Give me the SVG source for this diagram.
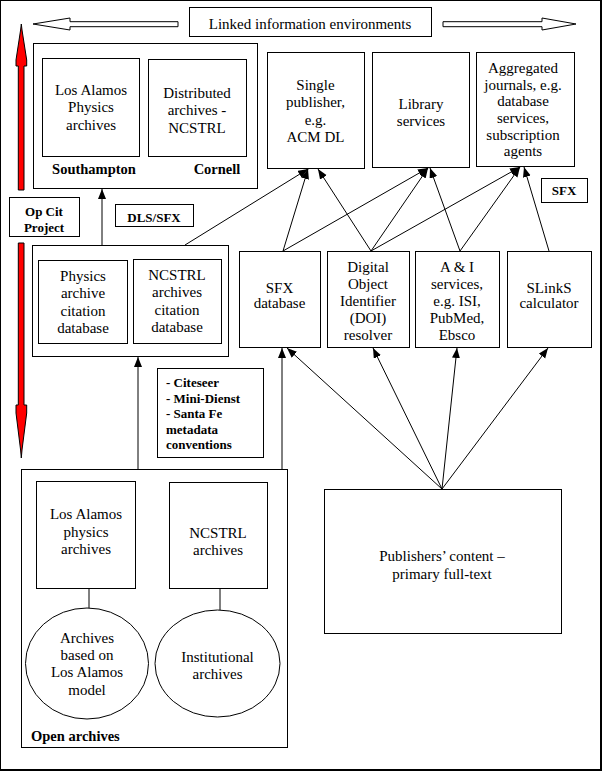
<svg xmlns="http://www.w3.org/2000/svg" width="604" height="771" viewBox="0 0 604 771">
<style>
.b{fill:#fff;stroke:#000;stroke-width:1}
rect.b{shape-rendering:crispEdges}
.t{font-family:"Liberation Serif","Times New Roman",serif;font-size:15px;fill:#000;text-anchor:middle}
.bd{font-family:"Liberation Serif","Times New Roman",serif;font-weight:bold;font-size:13px;fill:#000}
.c{text-anchor:middle}
.l{stroke:#000;stroke-width:1;fill:none}
.red{fill:#ff0000;stroke:#000;stroke-width:1}
.open{fill:#fff;stroke:#000;stroke-width:1}
</style>
<defs>
<marker id="ah" markerUnits="userSpaceOnUse" markerWidth="11" markerHeight="9" refX="10" refY="4" orient="auto">
<path d="M0,0 L10,4 L0,8 z" fill="#000"/>
</marker>
</defs>
<rect x="0" y="0" width="604" height="771" fill="#fff"/>
<rect x="0.5" y="0.5" width="600.5" height="769.5" fill="none" stroke="#000" stroke-width="1.5" shape-rendering="crispEdges"/>

<g id="title">
<rect class="b" x="189" y="7" width="242" height="29"/>
<text class="t" x="310" y="29">Linked information environments</text>
</g>
<g id="open-arrows">
<polygon class="open" points="33,24 70,18 70,21.7 178,21.7 178,26.7 70,26.7 70,30"/>
<polygon class="open" points="443,21.7 542,21.7 542,18 576,24 542,30 542,26.7 443,26.7"/>
</g>
<g id="red-arrows">
<polygon class="red" points="21.3,24 22,30 26.7,60 26.7,66 24,66 24,190 18.3,190 18.3,66 16,66 16,60 20.6,30"/>
<polygon class="red" points="18.3,243 24,243 24,405 26.7,405 26.7,413 22,450 21.3,458 20.6,450 16,413 16,405 18.3,405"/>
</g>
<g id="opcit">
<rect class="b" x="9" y="197" width="70" height="39"/>
<text class="bd c" x="44" y="216">Op Cit</text>
<text class="bd c" x="44" y="232">Project</text>
</g>
<g id="dlssfx">
<rect class="b" x="115" y="204" width="78" height="22"/>
<text class="bd c" x="154" y="222">DLS/SFX</text>
</g>
<g id="sfx-label">
<rect class="b" x="541" y="178" width="46" height="24"/>
<text class="bd c" x="564" y="195">SFX</text>
</g>

<g id="top-group">
<rect class="b" x="33" y="43" width="224" height="145"/>
<rect class="b" x="42" y="58" width="97" height="98"/>
<text class="t" x="91" y="95">Los Alamos</text>
<text class="t" x="91" y="112">Physics</text>
<text class="t" x="91" y="130">archives</text>
<rect class="b" x="148" y="59" width="98" height="97"/>
<text class="t" x="197" y="98">Distributed</text>
<text class="t" x="197" y="115">archives -</text>
<text class="t" x="197" y="133">NCSTRL</text>
<text class="bd c" x="94" y="174" style="font-size:14.5px">Southampton</text>
<text class="bd c" x="217" y="174" style="font-size:14.5px">Cornell</text>
</g>

<g id="single-publisher">
<rect class="b" x="267" y="52" width="97" height="116"/>
<text class="t" x="315.5" y="90">Single</text>
<text class="t" x="315.5" y="107">publisher,</text>
<text class="t" x="315.5" y="125">e.g.</text>
<text class="t" x="315.5" y="142">ACM DL</text>
</g>
<g id="library-services">
<rect class="b" x="372" y="52" width="97" height="115"/>
<text class="t" x="421" y="109">Library</text>
<text class="t" x="421" y="126">services</text>
</g>
<g id="aggregated">
<rect class="b" x="476" y="52" width="98" height="114"/>
<text class="t" x="523" y="73">Aggregated</text>
<text class="t" x="523" y="90">journals, e.g.</text>
<text class="t" x="523" y="106">database</text>
<text class="t" x="523" y="123">services,</text>
<text class="t" x="523" y="140">subscription</text>
<text class="t" x="523" y="156">agents</text>
</g>

<g id="citation-group">
<rect class="b" x="32" y="245" width="196" height="111"/>
<rect class="b" x="38" y="260" width="89" height="83"/>
<text class="t" x="83" y="281">Physics</text>
<text class="t" x="83" y="298">archive</text>
<text class="t" x="83" y="316">citation</text>
<text class="t" x="83" y="333">database</text>
<rect class="b" x="133" y="259" width="88" height="84"/>
<text class="t" x="177" y="280">NCSTRL</text>
<text class="t" x="177" y="297">archives</text>
<text class="t" x="177" y="315">citation</text>
<text class="t" x="177" y="332">database</text>
</g>

<g id="sfx-database">
<rect class="b" x="239" y="251" width="81" height="96"/>
<text class="t" x="279.5" y="293">SFX</text>
<text class="t" x="279.5" y="308">database</text>
</g>
<g id="doi">
<rect class="b" x="327" y="251" width="82" height="96"/>
<text class="t" x="368" y="272">Digital</text>
<text class="t" x="368" y="289">Object</text>
<text class="t" x="368" y="306">Identifier</text>
<text class="t" x="368" y="323">(DOI)</text>
<text class="t" x="368" y="340">resolver</text>
</g>
<g id="ai">
<rect class="b" x="415" y="251" width="84" height="96"/>
<text class="t" x="457" y="272">A &amp; I</text>
<text class="t" x="457" y="289">services,</text>
<text class="t" x="457" y="306">e.g. ISI,</text>
<text class="t" x="457" y="323">PubMed,</text>
<text class="t" x="457" y="340">Ebsco</text>
</g>
<g id="slinks">
<rect class="b" x="507" y="251" width="84" height="96"/>
<text class="t" x="549" y="293">SLinkS</text>
<text class="t" x="549" y="308">calculator</text>
</g>

<g id="citeseer">
<rect class="b" x="157" y="368" width="106" height="89"/>
<text class="bd" x="166" y="387">- Citeseer</text>
<text class="bd" x="166" y="403">- Mini-Dienst</text>
<text class="bd" x="166" y="418">- Santa Fe</text>
<text class="bd" x="166" y="434">metadata</text>
<text class="bd" x="166" y="449">conventions</text>
</g>

<g id="open-archives">
<rect class="b" x="21" y="469" width="266" height="278"/>
<rect class="b" x="36" y="481" width="99" height="107"/>
<text class="t" x="86" y="519">Los Alamos</text>
<text class="t" x="86" y="537">physics</text>
<text class="t" x="86" y="554">archives</text>
<rect class="b" x="169" y="482" width="98" height="106"/>
<text class="t" x="218" y="538">NCSTRL</text>
<text class="t" x="218" y="555">archives</text>
<ellipse class="b" cx="87" cy="663.5" rx="61.5" ry="55.5"/>
<text class="t" x="87" y="643">Archives</text>
<text class="t" x="87" y="660">based on</text>
<text class="t" x="87" y="677">Los Alamos</text>
<text class="t" x="87" y="695">model</text>
<ellipse class="b" cx="217.5" cy="663.5" rx="62.5" ry="53.5"/>
<text class="t" x="217.5" y="662">Institutional</text>
<text class="t" x="217.5" y="679">archives</text>
<text class="bd" x="31" y="741" style="font-size:14.5px">Open archives</text>
</g>

<g id="publishers">
<rect class="b" x="324" y="489" width="237" height="144"/>
<text class="t" x="442" y="561">Publishers’ content –</text>
<text class="t" x="442" y="579">primary full-text</text>
</g>

<g id="connectors">
<line class="l" x1="185" y1="245" x2="308" y2="169" marker-end="url(#ah)"/>
<line class="l" x1="283" y1="251" x2="308" y2="169" marker-end="url(#ah)"/>
<line class="l" x1="371" y1="251" x2="318" y2="169" marker-end="url(#ah)"/>
<line class="l" x1="283" y1="251" x2="428" y2="168" marker-end="url(#ah)"/>
<line class="l" x1="371" y1="251" x2="428" y2="168" marker-end="url(#ah)"/>
<line class="l" x1="460" y1="251" x2="430" y2="168" marker-end="url(#ah)"/>
<line class="l" x1="371" y1="251" x2="520" y2="167" marker-end="url(#ah)"/>
<line class="l" x1="460" y1="251" x2="520" y2="167" marker-end="url(#ah)"/>
<line class="l" x1="549" y1="251" x2="524" y2="167" marker-end="url(#ah)"/>
<line class="l" x1="102" y1="245" x2="102" y2="189" marker-end="url(#ah)"/>
<line class="l" x1="138" y1="469" x2="138" y2="357" marker-end="url(#ah)"/>
<line class="l" x1="282" y1="469" x2="282" y2="348" marker-end="url(#ah)"/>
<line class="l" x1="442" y1="489" x2="287" y2="348" marker-end="url(#ah)"/>
<line class="l" x1="442" y1="489" x2="373" y2="348" marker-end="url(#ah)"/>
<line class="l" x1="442" y1="489" x2="457" y2="348" marker-end="url(#ah)"/>
<line class="l" x1="442" y1="489" x2="548" y2="348" marker-end="url(#ah)"/>
<line class="l" x1="89" y1="588" x2="89" y2="608"/>
<line class="l" x1="220" y1="588" x2="220" y2="610"/>
</g>
</svg>
